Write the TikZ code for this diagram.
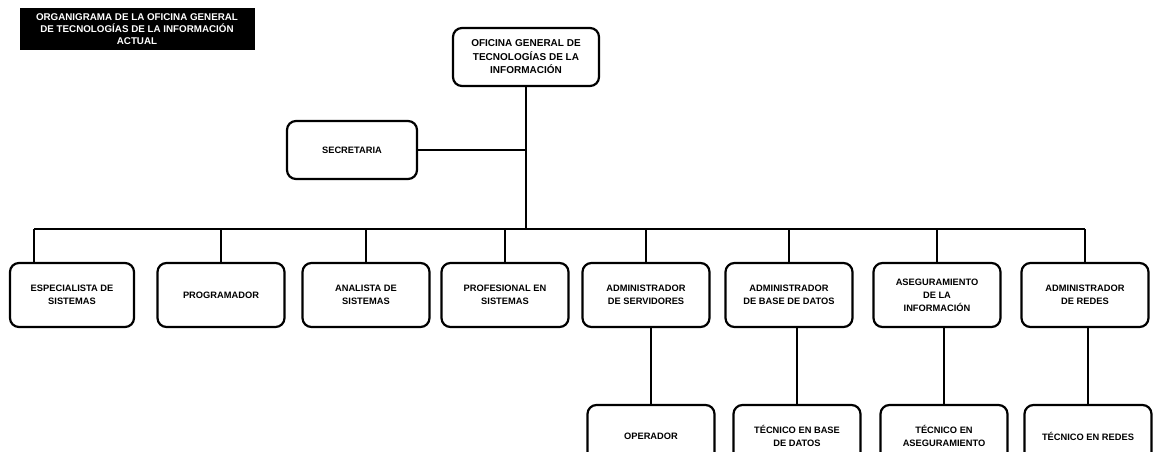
\documentclass[tikz,border=0pt]{standalone}
\usepackage{fontspec}
\setmainfont{Liberation Sans}
\usetikzlibrary{positioning}

\begin{document}
\begin{tikzpicture}[x=1pt,y=-1pt,
  puesto/.style={draw, line width=2.2pt, rounded corners=9pt, minimum width=127pt, minimum height=64pt,
    align=center, font=\bfseries\fontsize{9.3}{13}\selectfont},
  linea/.style={line width=1.6pt}]
\useasboundingbox (0,0) rectangle (1153,451);
% titulo
\node[fill=black, text=white, minimum width=235pt, minimum height=42pt, inner sep=1pt, align=center,
  font=\bfseries\fontsize{9.8}{12}\selectfont] (titulo) at (137,29)
  {ORGANIGRAMA DE LA OFICINA GENERAL\\DE TECNOLOGÍAS DE LA INFORMACIÓN\\ACTUAL};
% jefatura
\node[puesto, minimum width=146pt, minimum height=58pt, font=\bfseries\fontsize{10}{13.5}\selectfont] (ogti) at (526,57)
  {OFICINA GENERAL DE\\TECNOLOGÍAS DE LA\\INFORMACIÓN};
\node[puesto, minimum width=130pt, minimum height=58pt] (secre) at (352,150) {SECRETARIA};
% primer nivel
\node[puesto, minimum width=124pt] (esp) at (72,295) {ESPECIALISTA DE\\SISTEMAS};
\node[puesto] (prog) at (221,295) {PROGRAMADOR};
\node[puesto] (anal) at (366,295) {ANALISTA DE\\SISTEMAS};
\node[puesto] (prof) at (505,295) {PROFESIONAL EN\\SISTEMAS};
\node[puesto] (aserv) at (646,295) {ADMINISTRADOR\\DE SERVIDORES};
\node[puesto] (abd) at (789,295) {ADMINISTRADOR\\DE BASE DE DATOS};
\node[puesto] (aseg) at (937,295) {ASEGURAMIENTO\\DE LA\\INFORMACIÓN};
\node[puesto] (ared) at (1085,295) {ADMINISTRADOR\\DE REDES};
% segundo nivel
\node[puesto, minimum height=62pt] (oper) at (651,436) {OPERADOR};
\node[puesto, minimum height=62pt] (tbd) at (797,436) {TÉCNICO EN BASE\\DE DATOS};
\node[puesto, minimum height=62pt] (tas) at (944,436) {TÉCNICO EN\\ASEGURAMIENTO};
\node[puesto, minimum height=62pt] (tred) at (1088,436) {TÉCNICO EN REDES};
% lineas
\coordinate (busL) at (34,229);
\coordinate (busR) at (1085,229);
\draw[linea] (ogti.south) -- (ogti.south |- busL);
\draw[linea] (secre.east) -- (secre.east -| ogti.south);
\draw[linea] (busL) -- (busR);
\draw[linea] (busL) -- (busL |- esp.north);
\foreach \n in {prog,anal,prof,aserv,abd,aseg,ared}
  \draw[linea] (\n.north |- busL) -- (\n.north);
\draw[linea] (oper.north |- aserv.south) -- (oper.north);
\draw[linea] (tbd.north |- abd.south) -- (tbd.north);
\draw[linea] (tas.north |- aseg.south) -- (tas.north);
\draw[linea] (tred.north |- ared.south) -- (tred.north);
\end{tikzpicture}
\end{document}
